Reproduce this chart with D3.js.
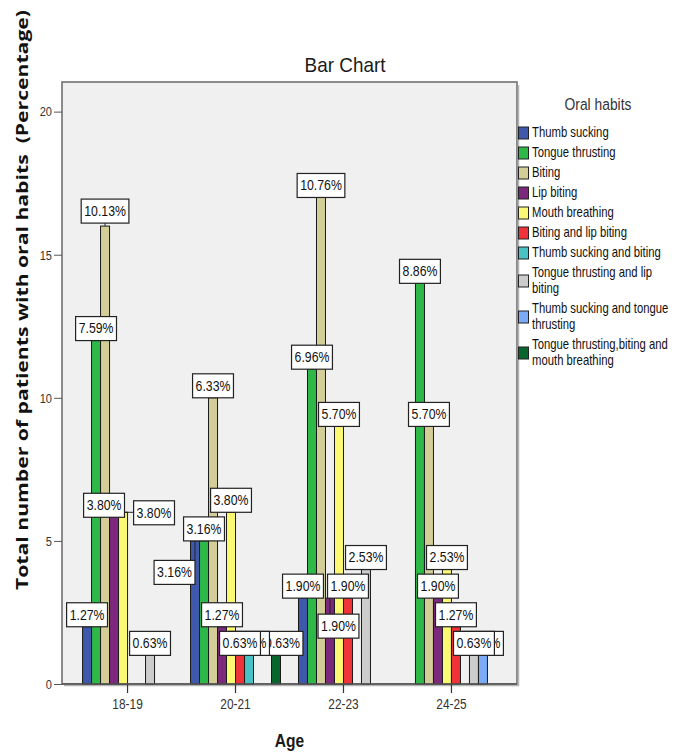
<!DOCTYPE html>
<html>
<head>
<meta charset="utf-8">
<script src="https://cdn.jsdelivr.net/npm/d3@7"></script>
<style>
  html, body { margin: 0; padding: 0; background: #ffffff; }
  svg { display: block; }
  .narrow { font-family: "Liberation Sans", Arial, sans-serif; }
</style>
</head>
<body>
<svg id="chart" width="676" height="753"></svg>
<script>
// ---- data -------------------------------------------------------------
const ages = ["18-19", "20-21", "22-23", "24-25"];
const habits = [
  "Thumb sucking",
  "Tongue thrusting",
  "Biting",
  "Lip biting",
  "Mouth breathing",
  "Biting and lip biting",
  "Thumb sucking and biting",
  "Tongue thrusting and lip biting",
  "Thumb sucking and tongue thrusting",
  "Tongue thrusting,biting and mouth breathing"
];
// number of patients per habit, one value per age group
const thumbSucking                  = [2, 5, 3, 0];
const tongueThrusting               = [12, 5, 11, 14];
const biting                        = [16, 10, 17, 9];
const lipBiting                     = [6, 2, 3, 3];
const mouthBreathing                = [6, 6, 9, 4];
const bitingAndLipBiting            = [0, 1, 3, 2];
const thumbSuckingAndBiting         = [0, 1, 0, 0];
const tongueThrustingAndLipBiting   = [1, 0, 4, 1];
const thumbSuckingAndTongueThrust   = [0, 0, 0, 1];
const tongueBitingMouthBreathing    = [0, 1, 0, 0];
const totalPatients = 158;
const yTicks = [0, 5, 10, 15, 20];

const seriesValues = [
  thumbSucking, tongueThrusting, biting, lipBiting, mouthBreathing,
  bitingAndLipBiting, thumbSuckingAndBiting, tongueThrustingAndLipBiting,
  thumbSuckingAndTongueThrust, tongueBitingMouthBreathing
];

// ---- styling ----------------------------------------------------------
const colors = ["#3e58ac", "#2eb848", "#d3ce97", "#7c287d", "#fbf873",
                "#ef3338", "#48c2c5", "#cccccc", "#7baaf7", "#07652d"];

// value labels that are pulled away from the top of their bar
const labelNudges = [
  { age: "18-19", habit: 2, dx: 0,     dy: -3 },
  { age: "18-19", habit: 3, dx: -10,   dy: 5 },
  { age: "18-19", habit: 4, dx: 31,    dy: 12.5 },
  { age: "20-21", habit: 0, dx: -20.5, dy: 43.5 },
  { age: "20-21", habit: 9, dx: 6.5,   dy: 0 },
  { age: "22-23", habit: 3, dx: 8.5,   dy: 40 }
];

// condensed look: scale Liberation Sans horizontally about each text's anchor
const NARROW = 0.82;
function condense(sel, k = NARROW) {
  sel.each(function () {
    const el = d3.select(this);
    const x = +el.attr("x") || 0, y = +el.attr("y") || 0;
    el.attr("x", 0).attr("y", 0)
      .attr("transform", `translate(${x},${y}) scale(${k},1)`);
  });
  return sel;
}

const plot = { left: 62, right: 517, top: 83, bottom: 684 };
const svg = d3.select("#chart");

const x0 = d3.scaleBand().domain(ages)
  .range([plot.left, plot.right]).paddingInner(0).paddingOuter(0.107);
const x1 = d3.scaleBand().domain(d3.range(habits.length))
  .range([0, x0.bandwidth()]).paddingInner(0).paddingOuter(1);
const y = d3.scaleLinear().domain([0, 21]).range([plot.bottom, plot.top]);
const color = d3.scaleOrdinal().domain(d3.range(habits.length)).range(colors);

// ---- plot frame --------------------------------------------------------
svg.append("rect")
  .attr("x", plot.left).attr("y", plot.top - 1)
  .attr("width", plot.right - plot.left).attr("height", plot.bottom - plot.top + 1)
  .attr("fill", "#f0f0f0").attr("stroke", "#707070").attr("stroke-width", 1.6);
// soft shadow along the right and bottom edges
svg.append("path")
  .attr("d", `M${plot.right + 1.5},${plot.top + 2}V${plot.bottom + 1.5}H${plot.left + 2}`)
  .attr("fill", "none").attr("stroke", "#b5b5b5").attr("stroke-width", 1.5);

// ---- bars ---------------------------------------------------------------
const cells = [];
ages.forEach((age, ai) => {
  habits.forEach((h, si) => {
    cells.push({ age, ai, si, value: seriesValues[si][ai] });
  });
});
const barCells = cells.filter(d => d.value > 0);

svg.append("g").selectAll("rect")
  .data(barCells).join("rect")
  .attr("x", d => x0(d.age) + x1(d.si))
  .attr("y", d => y(d.value))
  .attr("width", x1.bandwidth())
  .attr("height", d => y(0) - y(d.value))
  .attr("fill", d => color(d.si))
  .attr("stroke", "#1a1a1a").attr("stroke-width", 1);

// ---- axes ---------------------------------------------------------------
const yAxis = svg.append("g")
  .attr("transform", `translate(${plot.left},0)`)
  .call(d3.axisLeft(y).tickValues(yTicks).tickSize(8).tickPadding(2).tickFormat(d3.format("d")));
yAxis.select(".domain").remove();
yAxis.selectAll("line").attr("stroke", "#555");
condense(yAxis.selectAll("text").attr("class", "narrow").attr("font-size", 13.5).attr("fill", "#333"));

const xAxis = svg.append("g")
  .attr("transform", `translate(0,${plot.bottom})`)
  .call(d3.axisBottom(x0).tickSize(9).tickPadding(6));
xAxis.select(".domain").remove();
xAxis.selectAll("line").attr("stroke", "#333").attr("stroke-width", 1.2);
condense(xAxis.selectAll("text").attr("class", "narrow").attr("font-size", 14.5).attr("fill", "#333"));

svg.append("line")
  .attr("x1", plot.left).attr("x2", plot.right)
  .attr("y1", plot.bottom).attr("y2", plot.bottom)
  .attr("stroke", "#555").attr("stroke-width", 1.6);

// ---- value labels --------------------------------------------------------
const fmtPct = v => (v / totalPatients * 100).toFixed(2) + "%";
const labelLayer = svg.append("g").attr("class", "narrow");
const boxH = 24;

// later habits first, so earlier habit labels sit on top where they overlap
const labelOrder = barCells.slice().sort((a, b) => a.ai - b.ai || b.si - a.si);
labelOrder.forEach(d => {
  const barX = x0(d.age) + x1(d.si) + x1.bandwidth() / 2;
  const barY = y(d.value);
  const nudge = labelNudges.find(n => n.age === d.age && n.habit === d.si) || { dx: 0, dy: 0 };
  const cx = barX + nudge.dx;
  const cy = barY - 12 + nudge.dy;

  const g = labelLayer.append("g");
  const t = g.append("text")
    .attr("x", cx).attr("y", cy)
    .attr("text-anchor", "middle").attr("dominant-baseline", "central")
    .attr("font-size", 15).attr("fill", "#111")
    .text(fmtPct(d.value));
  const w = t.node().getComputedTextLength() * NARROW + 6;
  condense(t);
  const bx = cx - w / 2, by = cy - boxH / 2;

  // leader from the bar top to the nearest edge of a displaced box
  const inside = barX >= bx && barX <= bx + w && barY >= by && barY <= by + boxH;
  if (!inside) {
    const px = Math.max(bx, Math.min(barX, bx + w));
    const py = Math.max(by, Math.min(barY, by + boxH));
    g.insert("line", "text")
      .attr("x1", barX).attr("y1", barY).attr("x2", px).attr("y2", py)
      .attr("stroke", "#222").attr("stroke-width", 1);
  }
  g.insert("rect", "text")
    .attr("x", bx).attr("y", by).attr("width", w).attr("height", boxH)
    .attr("fill", "#ffffff").attr("stroke", "#222").attr("stroke-width", 1.2);
});

// ---- titles ----------------------------------------------------------------
condense(svg.append("text").attr("class", "narrow")
  .attr("x", 345).attr("y", 72).attr("text-anchor", "middle")
  .attr("font-size", 21).attr("fill", "#1a1a1a")
  .text("Bar Chart"), 0.9);

condense(svg.append("text").attr("class", "narrow")
  .attr("x", (plot.left + plot.right) / 2).attr("y", 747).attr("text-anchor", "middle")
  .attr("font-size", 19).attr("font-weight", "bold").attr("fill", "#1a1a1a")
  .text("Age"));

svg.append("text")
  .attr("transform", "translate(28,300) rotate(-90)")
  .attr("text-anchor", "middle")
  .attr("font-family", "'Open Sans', 'DejaVu Sans', sans-serif")
  .attr("font-size", 16).attr("font-weight", "bold").attr("fill", "#111")
  .attr("textLength", 580).attr("lengthAdjust", "spacingAndGlyphs")
  .text("Total number of patients with oral habits\u00a0 (Percentage)");

// ---- legend -----------------------------------------------------------------
const legend = svg.append("g").attr("class", "narrow");
condense(legend.append("text")
  .attr("x", 598).attr("y", 110).attr("text-anchor", "middle")
  .attr("font-size", 16.5).attr("fill", "#333")
  .text("Oral habits"), 0.84);

const legendFont = 13.8;
const legendMaxWidth = 146;
const lineGap = 16, itemGap = 20;
let lineY = 133;
habits.forEach((name, si) => {
  const item = legend.append("g");
  // word-wrap the habit name into the legend column
  const words = name.split(" ");
  const lines = [];
  let current = "";
  const probe = item.append("text").attr("font-size", legendFont);
  words.forEach(wd => {
    const trial = current ? current + " " + wd : wd;
    probe.text(trial);
    if (current && probe.node().getComputedTextLength() * NARROW > legendMaxWidth) {
      lines.push(current);
      current = wd;
    } else {
      current = trial;
    }
  });
  lines.push(current);
  probe.remove();

  const firstY = lineY;
  lines.forEach((ln, li) => {
    condense(item.append("text")
      .attr("x", 532).attr("y", firstY + li * lineGap)
      .attr("dominant-baseline", "central")
      .attr("font-size", legendFont).attr("fill", "#111")
      .text(ln));
  });
  const lastY = firstY + (lines.length - 1) * lineGap;
  const midY = (firstY + lastY) / 2;
  item.insert("rect", "text")
    .attr("x", 518.5).attr("y", midY - 6).attr("width", 10).attr("height", 12)
    .attr("fill", color(si)).attr("stroke", "#222").attr("stroke-width", 1);
  lineY = lastY + itemGap;
});
</script>
</body>
</html>
